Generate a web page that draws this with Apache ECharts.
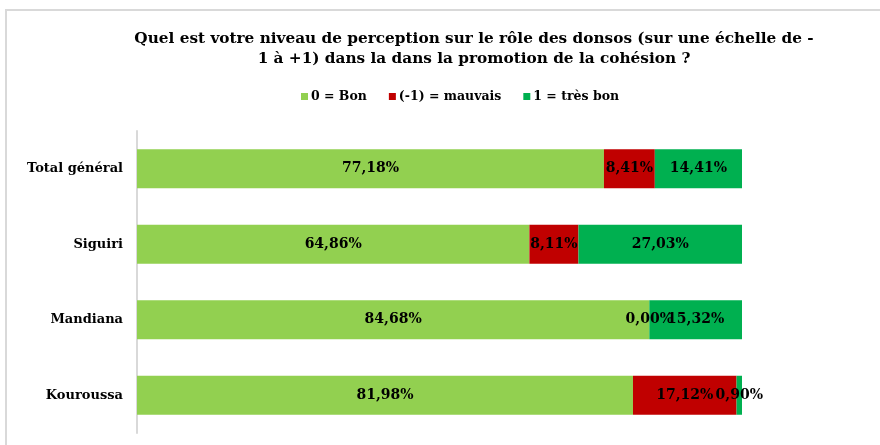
<!DOCTYPE html>
<html>
<head>
<meta charset="utf-8">
<script src="https://cdn.jsdelivr.net/npm/echarts@6/dist/echarts.min.js"></script>
<style>
  html, body { margin: 0; padding: 0; background: #fff; }
  #chart { width: 880px; height: 445px; }
</style>
</head>
<body>
<div id="chart"></div>
<script>
const categories = ['Total général', 'Siguiri', 'Mandiana', 'Kouroussa'];
const bon = [77.18, 64.86, 84.68, 81.98];
const mauvais = [8.41, 8.11, 0.00, 17.12];
const tresBon = [14.41, 27.03, 15.32, 0.90];

const fontFamily = '"DejaVu Serif", "Liberation Serif", serif';

const pct = (p) => p.value.toFixed(2).replace('.', ',') + '%';

const makeSeries = (name, data, color) => ({
  name: name,
  type: 'bar',
  stack: 'total',
  barWidth: 39,
  data: data,
  itemStyle: { color: color },
  label: {
    show: true,
    position: 'inside',
    formatter: pct,
    color: '#000',
    fontFamily: fontFamily,
    fontWeight: 'bold',
    fontSize: 14
  }
});

const chart = echarts.init(document.getElementById('chart'));
chart.setOption({
  animation: false,
  graphic: [{
    type: 'rect',
    shape: { x: 6, y: 10, width: 900, height: 460 },
    style: { fill: 'none', stroke: '#d9d9d9', lineWidth: 2 },
    z: -1
  }],
  title: {
    text: 'Quel est votre niveau de perception sur le rôle des donsos (sur une échelle de -\n1 à +1) dans la dans la promotion de la cohésion ?',
    left: 469,
    textAlign: 'center',
    top: 24,
    textStyle: {
      fontFamily: fontFamily,
      fontWeight: 'bold',
      fontSize: 15.3,
      lineHeight: 20,
      color: '#000'
    }
  },
  legend: {
    top: 85,
    left: 296,
    itemWidth: 7,
    itemHeight: 7,
    itemGap: 22,
    icon: 'rect',
    textStyle: {
      fontFamily: fontFamily,
      fontWeight: 'bold',
      fontSize: 12.5,
      color: '#000',
      padding: [0, 0, 0, -2]
    },
    data: ['0 = Bon', '(-1) = mauvais', '1 = très bon']
  },
  grid: {
    left: 137,
    right: 138,
    top: 131,
    height: 302
  },
  xAxis: {
    type: 'value',
    min: 0,
    max: 100,
    show: false
  },
  yAxis: {
    type: 'category',
    inverse: true,
    data: categories,
    axisTick: { show: false },
    axisLine: { lineStyle: { color: '#d9d9d9', width: 2 } },
    axisLabel: {
      margin: 14,
      color: '#000',
      fontFamily: fontFamily,
      fontWeight: 'bold',
      fontSize: 13
    }
  },
  series: [
    makeSeries('0 = Bon', bon, '#92D050'),
    makeSeries('(-1) = mauvais', mauvais, '#C00000'),
    makeSeries('1 = très bon', tresBon, '#00B050')
  ]
});
</script>
</body>
</html>
